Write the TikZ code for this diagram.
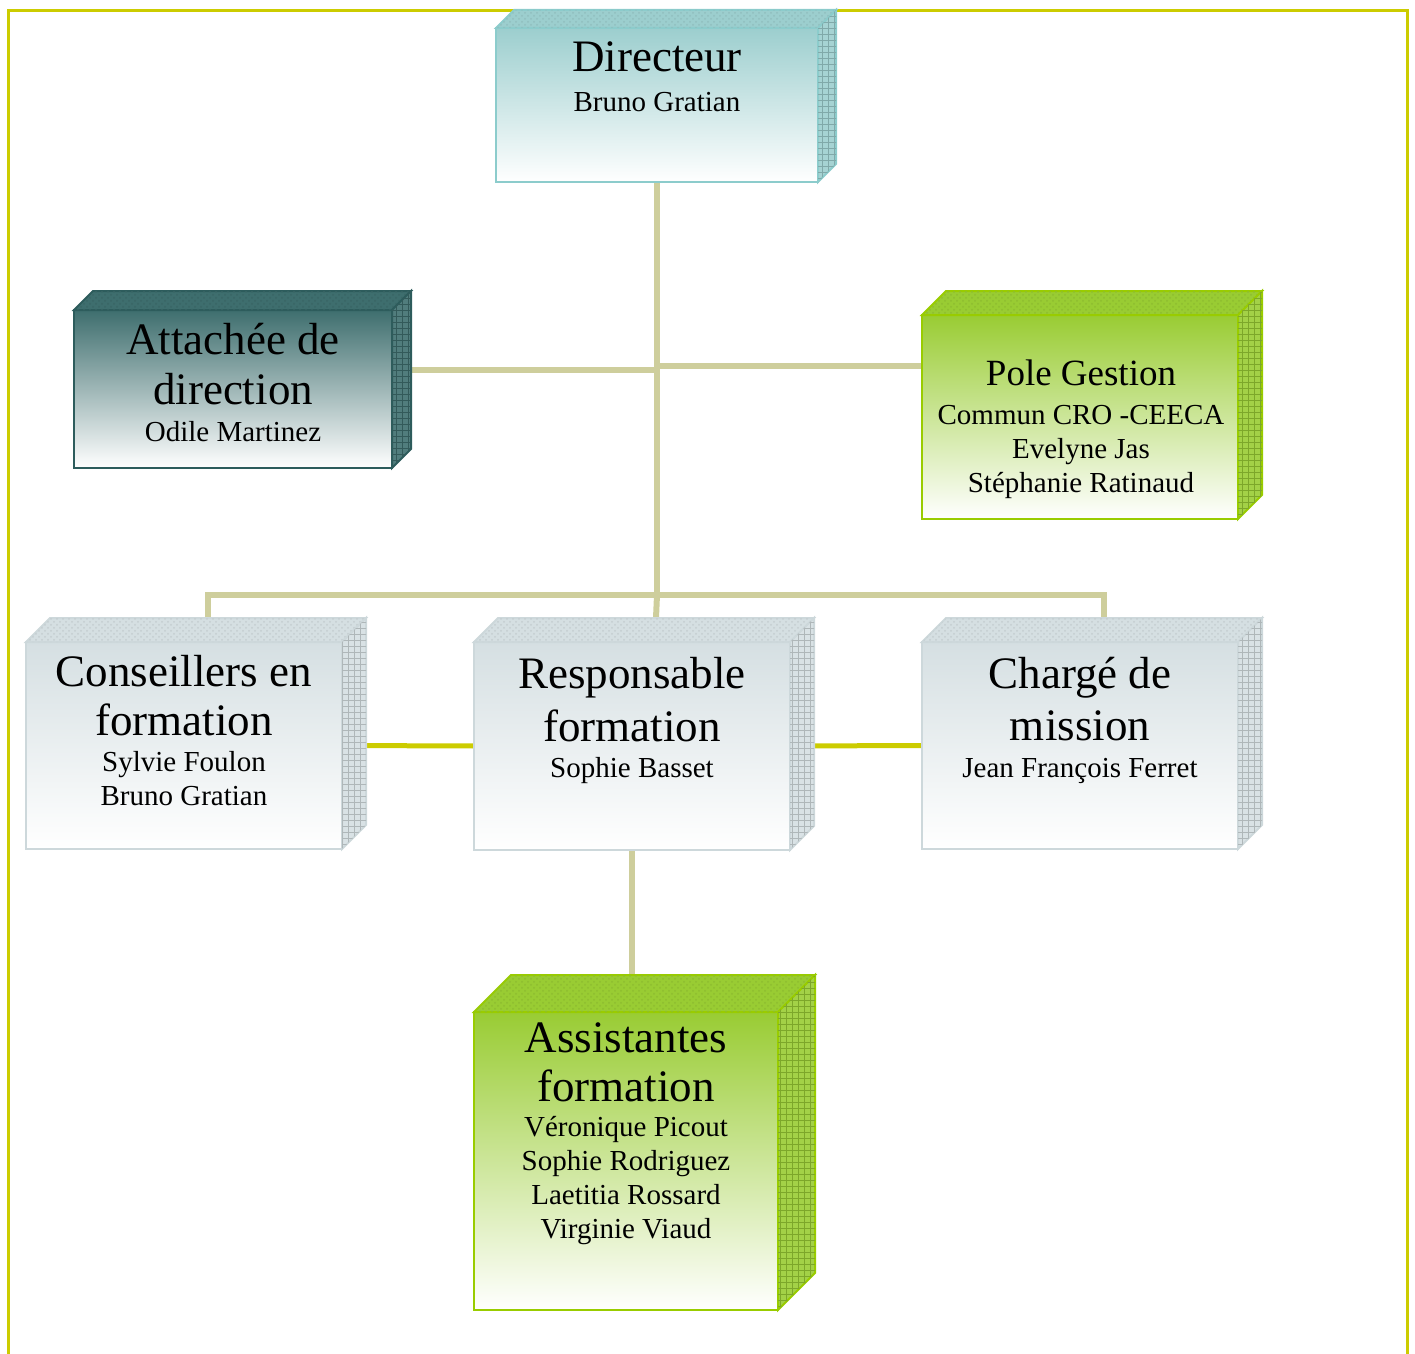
\documentclass[tikz,border=0pt]{standalone}
\usepackage{fontspec}
\setmainfont{Liberation Serif}
\usetikzlibrary{fit,patterns,backgrounds}

\definecolor{framecol}{RGB}{204,204,0}
\definecolor{trunkcol}{RGB}{206,206,156}
\definecolor{tealtop}{RGB}{156,206,206}
\definecolor{tealline}{RGB}{140,204,204}
\definecolor{darktop}{RGB}{62,110,110}
\definecolor{darkline}{RGB}{45,92,92}
\definecolor{greentop}{RGB}{153,204,51}
\definecolor{greenline}{RGB}{153,204,0}
\definecolor{greytop}{RGB}{213,223,226}
\definecolor{greyline}{RGB}{205,216,219}

\newcommand{\headfont}{\fontsize{22.5}{25}\selectfont}
\newcommand{\poleheadfont}{\fontsize{18.5}{20}\selectfont}
\newcommand{\namefont}{\fontsize{14.5}{17}\selectfont}

% top and side of a box: node, depth, colour, edge colour
\newcommand{\boxfaces}[4]{%
  \filldraw[fill=#3, draw=#4, line width=1pt]
    (#1.north west) -- ++(#2,-#2) -- ([shift={(#2,-#2)}]#1.north east) -- (#1.north east) -- cycle;
  \fill[pattern=crosshatch dots, pattern color=#3!92!black]
    (#1.north west) -- ++(#2,-#2) -- ([shift={(#2,-#2)}]#1.north east) -- (#1.north east) -- cycle;
  \filldraw[fill=#3!90!white, draw=#4, line width=1pt]
    (#1.north east) -- ++(#2,-#2) -- ([shift={(#2,-#2)}]#1.south east) -- (#1.south east) -- cycle;
  \fill[pattern=grid, pattern color=#3!82!black]
    (#1.north east) -- ++(#2,-#2) -- ([shift={(#2,-#2)}]#1.south east) -- (#1.south east) -- cycle;
}

\begin{document}
\begin{tikzpicture}[x=0.5pt,y=-0.5pt,
    face/.style={inner sep=0pt, outer sep=0pt, line width=1pt},
    txt/.style={anchor=north, align=center, inner sep=0pt, font=\namefont},
    trunk/.style={draw=trunkcol, line width=3pt},
    link/.style={draw=framecol, line width=2.5pt},
    frame/.style={draw=framecol, line width=1.5pt}]

\useasboundingbox (0,0) rectangle (1415,1354);

% Drawing frame
\draw[frame] (8.5,1360) -- (8.5,10.5) -- (1407.5,10.5) -- (1407.5,1360);

% Drawing box Directeur
\node[face, fit={(496,28) (818,182)}, draw=tealline, top color=tealtop, bottom color=white] (dir) {};
\boxfaces{dir}{18}{tealtop}{tealline}
\node[txt] (dir-t) at (657,41) {\headfont Directeur\\[3pt] Bruno Gratian};

% Drawing box Attachee de direction
\node[face, fit={(74,310) (392,468)}, draw=darkline, top color=darktop, bottom color=white] (att) {};
\boxfaces{att}{19}{darktop}{darkline}
\node[txt] (att-t) at (233,323) {\headfont Attachée de\\[8pt] \headfont direction\\[1.5pt] Odile Martinez};

% Drawing box Pole Gestion
\node[face, fit={(922,315) (1238,519)}, draw=greenline, top color=greentop, bottom color=white] (pole) {};
\boxfaces{pole}{24}{greentop}{greenline}
\node[txt] (pole-t) at (1081,359) {\poleheadfont Pole Gestion\\[2.5pt] Commun CRO -CEECA\\ Evelyne Jas\\ Stéphanie Ratinaud};

% Drawing box Conseillers en formation
\node[face, fit={(26,642) (342,849)}, draw=greyline, top color=greytop, bottom color=white] (cons) {};
\boxfaces{cons}{24}{greytop}{greyline}
\node[txt] (cons-t) at (184,655) {\headfont Conseillers en\\[7.5pt] \headfont formation\\[1pt] Sylvie Foulon\\ Bruno Gratian};

% Drawing box Responsable formation
\node[face, fit={(474,642) (790,850)}, draw=greyline, top color=greytop, bottom color=white] (resp) {};
\boxfaces{resp}{24}{greytop}{greyline}
\node[txt] (resp-t) at (632,657) {\headfont Responsable\\[5pt] \headfont formation\\[1pt] Sophie Basset};

% Drawing box Charge de mission
\node[face, fit={(922,642) (1238,849)}, draw=greyline, top color=greytop, bottom color=white] (charge) {};
\boxfaces{charge}{24}{greytop}{greyline}
\node[txt] (charge-t) at (1080,657) {\headfont Chargé de\\[5pt] \headfont mission\\[1.5pt] Jean François Ferret};

% Drawing box Assistantes formation
\node[face, fit={(474,1012) (778,1310)}, draw=greenline, top color=greentop, bottom color=white] (assist) {};
\boxfaces{assist}{37}{greentop}{greenline}
\node[txt] (assist-t) at (626,1022) {\headfont Assistantes\\[7.5pt] \headfont formation\\[0.5pt] Véronique Picout\\ Sophie Rodriguez\\ Laetitia Rossard\\ Virginie Viaud};

% Drawing connectors behind the boxes
\begin{scope}[on background layer]
  \coordinate (bus) at (dir.south |- 0,595);
  \coordinate (hubL) at (dir.south |- 0,370);
  \coordinate (hubR) at (dir.south |- 0,366);
  \coordinate (cons-b) at ([shift={(24,-24)}]cons.north);
  \coordinate (resp-b) at ([shift={(24,-24)}]resp.north);
  \coordinate (charge-b) at ([shift={(24,-24)}]charge.north);
  \draw[trunk] (dir.south) -- (bus);
  \draw[trunk] (att.east |- hubL) -- (hubL);
  \draw[trunk] (hubR) -- (pole.west |- hubR);
  \draw[trunk] (cons-b) |- (bus) -| (charge-b);
  \draw[trunk] (bus) -- (resp-b);
  \draw[trunk] (resp.south) -- (resp.south |- assist.north);
  \draw[link] (cons.east) -- (resp.west);
  \draw[link] (resp.east) -- (charge.west);
\end{scope}
\end{tikzpicture}
\end{document}
